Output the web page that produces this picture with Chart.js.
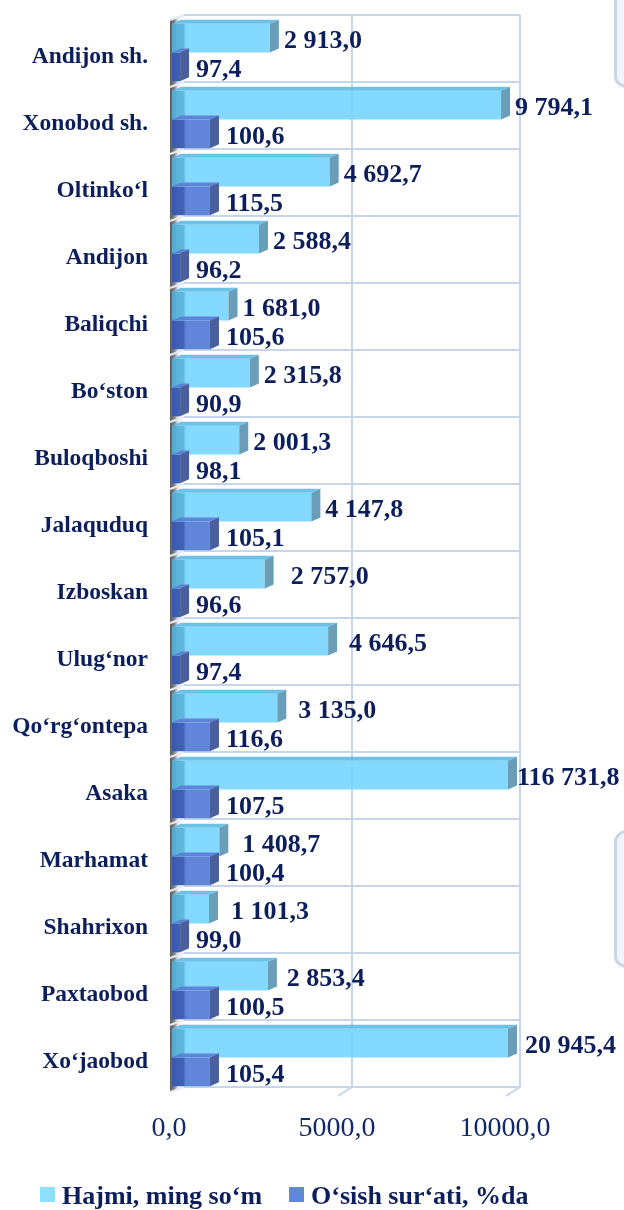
<!DOCTYPE html>
<html>
<head>
<meta charset="utf-8">
<script src="https://cdn.jsdelivr.net/npm/chart.js@4.4.0/dist/chart.umd.min.js"></script>
<style>
  body { margin: 0; background: #fff; }
  #wrap { position: relative; width: 624px; height: 1210px; overflow: hidden; }
  .tab { position: absolute; left: 614px; width: 40px; border: 3px solid #CAD7E9; background: #F1F4F9; border-radius: 12px; }
  canvas { position: absolute; left: 0; top: 0; }
</style>
</head>
<body>
<div id="wrap">
  <div class="tab" style="top:-30px;height:112px"></div>
  <div class="tab" style="top:830px;height:132px"></div>
  <canvas id="chart" width="624" height="1210"></canvas>
</div>
<script>
const districts = ['Andijon sh.', 'Xonobod sh.', 'Oltinko‘l', 'Andijon', 'Baliqchi', 'Bo‘ston', 'Buloqboshi',
  'Jalaquduq', 'Izboskan', 'Ulug‘nor', 'Qo‘rg‘ontepa', 'Asaka', 'Marhamat', 'Shahrixon', 'Paxtaobod', 'Xo‘jaobod'];
const volume = [2913.0, 9794.1, 4692.7, 2588.4, 1681.0, 2315.8, 2001.3, 4147.8, 2757.0, 4646.5, 3135.0,
  116731.8, 1408.7, 1101.3, 2853.4, 20945.4];
const growthRate = [97.4, 100.6, 115.5, 96.2, 105.6, 90.9, 98.1, 105.1, 96.6, 97.4, 116.6, 107.5, 100.4, 99.0, 100.5, 105.4];
// lengths of the growth bars as they are drawn in the picture (axis units)
const growthBar = [240, 1130, 1130, 240, 1130, 240, 240, 1130, 240, 240, 1130, 1130, 1130, 240, 1130, 1130];
const xTicks = [0, 5000, 10000];
const seriesNames = ['Hajmi, ming so‘m', 'O‘sish sur‘ati, %da'];

const navy = '#0C1F5C';
const serif = '"Liberation Serif", "Times New Roman", serif';

function fmt(v) {
  const parts = v.toFixed(1).split('.');
  return parts[0].replace(/\B(?=(\d{3})+(?!\d))/g, ' ') + ',' + parts[1];
}

function frontFill(dark, main) {
  return function(c) {
    const ca = c.chart.chartArea;
    if (!ca) return main;
    const g = c.chart.ctx.createLinearGradient(ca.left, 0, ca.left + 14, 0);
    g.addColorStop(0, dark);
    g.addColorStop(0.8, dark);
    g.addColorStop(1, main);
    return g;
  };
}

// depth of bars and walls
const DX = 9, DY = -4;
const WX = 12, WY = -4;
const FX = -2, FY = 1;

const fake3d = {
  id: 'fake3d',
  beforeDatasetsDraw(chart) {
    const c = chart.ctx, ca = chart.chartArea, xs = chart.scales.x;
    const n = districts.length, band = (ca.bottom - ca.top) / n;
    const x0 = xs.getPixelForValue(0), xm = xs.getPixelForValue(xTicks[xTicks.length - 1]);
    c.save();
    // left wall
    const g = c.createLinearGradient(x0 + FX, 0, x0 + WX, 0);
    g.addColorStop(0, '#5a5a5a');
    g.addColorStop(0.35, '#8a8a8a');
    g.addColorStop(0.6, 'rgba(200,200,200,0.3)');
    g.addColorStop(1, 'rgba(255,255,255,0)');
    c.fillStyle = g;
    c.beginPath();
    c.moveTo(x0 + FX, ca.top + FY);
    c.lineTo(x0 + WX, ca.top + WY);
    c.lineTo(x0 + WX, ca.bottom + WY);
    c.lineTo(x0 + FX, ca.bottom + FY);
    c.closePath();
    c.fill();
    c.strokeStyle = '#C6D5EA';
    c.lineWidth = 2;
    // back wall vertical grid
    xTicks.forEach(v => {
      if (v === 0) return;
      const x = xs.getPixelForValue(v) + WX;
      c.beginPath();
      c.moveTo(x, ca.top + WY);
      c.lineTo(x, ca.bottom + WY);
      c.stroke();
      // floor mark
      c.beginPath();
      c.moveTo(x, ca.bottom + WY);
      c.lineTo(x - 14, ca.bottom + WY + 9);
      c.stroke();
    });
    // back wall horizontal lines and wall separators
    for (let i = 0; i <= n; i++) {
      const y = ca.top + i * band;
      c.strokeStyle = '#C6D5EA';
      c.beginPath();
      c.moveTo(x0 + WX, y + WY);
      c.lineTo(xm + WX, y + WY);
      c.stroke();
      c.strokeStyle = '#E3EAF4';
      c.beginPath();
      c.moveTo(x0 + FX, y + FY);
      c.lineTo(x0 + WX, y + WY);
      c.stroke();
    }
    c.restore();
  },
  afterDatasetsDraw(chart) {
    const c = chart.ctx, ca = chart.chartArea;
    const faces = [
      { top: 'rgba(100,190,230,0.95)', side: '#6A9EB8' },
      { top: 'rgba(92,128,212,0.95)', side: '#4A5F9C' }
    ];
    c.save();
    [0, 1].forEach(d => {
      chart.getDatasetMeta(d).data.forEach(el => {
        const p = el.getProps(['x', 'y', 'base', 'height'], true);
        const x = Math.min(p.x, ca.right), b = p.base;
        const t = p.y - p.height / 2, btm = p.y + p.height / 2;
        c.fillStyle = faces[d].top;
        c.beginPath();
        c.moveTo(b, t); c.lineTo(b + DX, t + DY); c.lineTo(x + DX, t + DY); c.lineTo(x, t);
        c.closePath(); c.fill();
        c.fillStyle = faces[d].side;
        c.beginPath();
        c.moveTo(x, t); c.lineTo(x + DX, t + DY); c.lineTo(x + DX, btm + DY); c.lineTo(x, btm);
        c.closePath(); c.fill();
      });
    });
    c.restore();
  },
  afterDraw(chart) {
    const c = chart.ctx, ca = chart.chartArea;
    const extraGap = { 8: 12, 9: 7, 10: 7, 11: -5, 12: 9, 13: 8, 14: 5, 15: 3 };
    c.save();
    c.fillStyle = navy;
    c.font = 'bold 26px ' + serif;
    c.textBaseline = 'middle';
    c.textAlign = 'left';
    chart.getDatasetMeta(0).data.forEach((el, i) => {
      const x = Math.min(el.x, ca.right) + DX + 5 + (extraGap[i] || 0);
      c.fillText(fmt(volume[i]), x, el.y + 3);
    });
    chart.getDatasetMeta(1).data.forEach((el, i) => {
      const x = Math.min(el.x, ca.right) + DX + 7;
      c.fillText(fmt(growthRate[i]), x, el.y + 3);
    });
    // legend
    const colors = ['#8DE0FF', '#5F88DB'];
    let lx = 40;
    c.textBaseline = 'alphabetic';
    seriesNames.forEach((name, i) => {
      c.fillStyle = colors[i];
      c.fillRect(lx, 1187, 15, 15);
      c.fillStyle = navy;
      c.fillText(name, lx + 22, 1204);
      lx += 22 + c.measureText(name).width + 27;
    });
    c.restore();
  }
};

new Chart(document.getElementById('chart'), {
  type: 'bar',
  data: {
    labels: districts,
    datasets: [{
      label: seriesNames[0],
      data: volume,
      backgroundColor: frontFill('rgba(80,176,218,0.92)', 'rgba(118,212,253,0.9)'),
      borderWidth: 0,
      categoryPercentage: 0.86,
      barPercentage: 1.0
    }, {
      label: seriesNames[1],
      data: growthBar,
      backgroundColor: frontFill('rgba(54,88,178,0.95)', 'rgba(84,124,214,0.93)'),
      borderWidth: 0,
      categoryPercentage: 0.86,
      barPercentage: 1.0
    }]
  },
  options: {
    indexAxis: 'y',
    responsive: false,
    animation: false,
    layout: { padding: { top: 19, right: 116, bottom: 0, left: 0 } },
    plugins: { legend: { display: false }, tooltip: { enabled: false } },
    scales: {
      x: {
        min: 0,
        max: 10000,
        afterBuildTicks: s => { s.ticks = xTicks.map(v => ({ value: v })); },
        afterFit: s => { s.height = 119; s.paddingLeft = 0; s.paddingRight = 0; },
        grid: { display: false, drawTicks: false },
        border: { display: false },
        ticks: {
          padding: 21,
          labelOffset: -3,
          color: '#14296A',
          font: { size: 28, family: serif },
          callback: v => Number(v).toFixed(1).replace('.', ',')
        }
      },
      y: {
        afterFit: s => { s.width = 172; s.paddingTop = 0; s.paddingBottom = 0; },
        grid: { display: false, drawTicks: false },
        border: { display: false },
        ticks: {
          padding: 24,
          labelOffset: 4,
          color: navy,
          font: { size: 23.5, weight: 'bold', family: serif }
        }
      }
    }
  },
  plugins: [fake3d]
});
</script>
</body>
</html>
